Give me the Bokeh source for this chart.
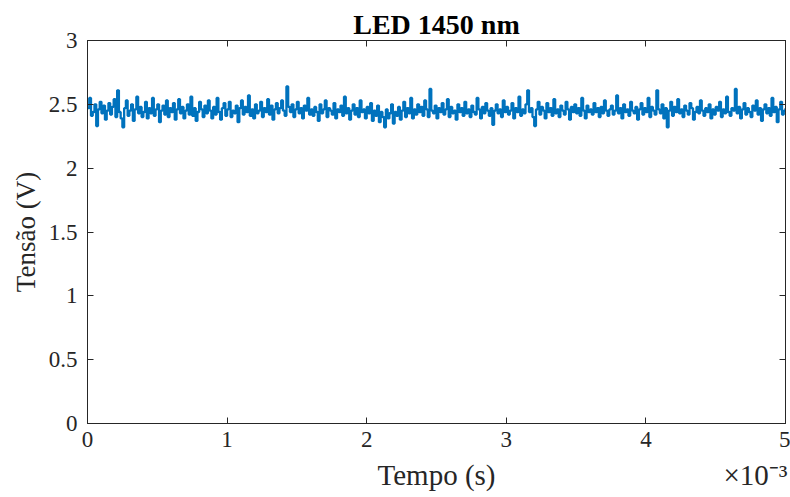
import numpy as np
from bokeh.plotting import figure
from bokeh.models import (Range1d, FixedTicker, LinearAxis,
                          CustomJSTickFormatter)
from bokeh.embed import file_html
from bokeh.resources import INLINE

# ---- data ----
title_text = "LED 1450 nm"
x_label = "Tempo (s)"
y_label = "Tensão (V)"
x_exponent = "×10⁻³"
x_ticks = [0, 0.001, 0.002, 0.003, 0.004, 0.005]
y_ticks = [0, 0.5, 1, 1.5, 2, 2.5, 3]
t_end = 0.005

volt = [
    2.47, 2.55, 2.41, 2.44, 2.50, 2.33, 2.46, 2.52, 2.43, 2.49,
    2.38, 2.45, 2.51, 2.42, 2.48, 2.54, 2.40, 2.61, 2.44, 2.39,
    2.32, 2.47, 2.53, 2.41, 2.45, 2.50, 2.37, 2.46, 2.56, 2.43,
    2.48, 2.40, 2.44, 2.52, 2.39, 2.47, 2.43, 2.55, 2.41, 2.46,
    2.50, 2.36, 2.45, 2.49, 2.42, 2.53, 2.40, 2.47, 2.44, 2.51,
    2.38, 2.46, 2.54, 2.43, 2.48, 2.39, 2.45, 2.50, 2.42, 2.56,
    2.41, 2.47, 2.37, 2.44, 2.52, 2.46, 2.40, 2.49, 2.43, 2.53,
    2.45, 2.39, 2.48, 2.42, 2.55, 2.44, 2.38, 2.47, 2.51, 2.41,
    2.46, 2.52, 2.40, 2.45, 2.43, 2.49, 2.36, 2.47, 2.53, 2.42,
    2.48, 2.44, 2.57, 2.41, 2.46, 2.39, 2.50, 2.43, 2.45, 2.52,
    2.40, 2.47, 2.44, 2.54, 2.42, 2.49, 2.38, 2.46, 2.51, 2.43,
    2.47, 2.53, 2.45, 2.41, 2.64, 2.48, 2.44, 2.50, 2.40, 2.46,
    2.52, 2.43, 2.47, 2.39, 2.49, 2.45, 2.55, 2.42, 2.46, 2.41,
    2.48, 2.44, 2.37, 2.50, 2.43, 2.46, 2.53, 2.40, 2.47, 2.45,
    2.42, 2.51, 2.39, 2.46, 2.44, 2.49, 2.41, 2.56, 2.43, 2.47,
    2.38, 2.45, 2.50, 2.42, 2.47, 2.40, 2.53, 2.44, 2.46, 2.39,
    2.48, 2.43, 2.51, 2.37, 2.45, 2.41, 2.49, 2.36, 2.44, 2.40,
    2.32, 2.46, 2.39, 2.43, 2.50, 2.35, 2.44, 2.41, 2.48, 2.38,
    2.45, 2.52, 2.40, 2.47, 2.43, 2.55, 2.39, 2.46, 2.42, 2.50,
    2.44, 2.48, 2.41, 2.53, 2.46, 2.40, 2.62, 2.45, 2.43, 2.49,
    2.39, 2.47, 2.44, 2.51, 2.42, 2.46, 2.54, 2.40, 2.48, 2.43,
    2.45, 2.38, 2.50, 2.44, 2.47, 2.41, 2.52, 2.43, 2.46, 2.40,
    2.49, 2.44, 2.42, 2.55, 2.46, 2.39, 2.48, 2.43, 2.51, 2.45,
    2.41, 2.47, 2.34, 2.45, 2.50, 2.43, 2.46, 2.40, 2.53, 2.44,
    2.48, 2.42, 2.45, 2.51, 2.39, 2.47, 2.44, 2.56, 2.41, 2.46,
    2.43, 2.50, 2.61, 2.44, 2.47, 2.40, 2.33, 2.46, 2.52, 2.42,
    2.48, 2.45, 2.39, 2.51, 2.44, 2.47, 2.41, 2.54, 2.43, 2.46,
    2.40, 2.49, 2.45, 2.42, 2.52, 2.46, 2.38, 2.48, 2.44, 2.50,
    2.43, 2.47, 2.41, 2.55, 2.45, 2.39, 2.49, 2.44, 2.46, 2.42,
    2.51, 2.44, 2.47, 2.40, 2.48, 2.43, 2.53, 2.45, 2.41, 2.46,
    2.49, 2.42, 2.45, 2.57, 2.43, 2.47, 2.39, 2.50, 2.44, 2.46,
    2.41, 2.52, 2.45, 2.43, 2.48, 2.38, 2.46, 2.51, 2.42, 2.47,
    2.44, 2.55, 2.40, 2.48, 2.45, 2.42, 2.61, 2.46, 2.43, 2.50,
    2.39, 2.47, 2.32, 2.45, 2.52, 2.41, 2.48, 2.44, 2.54, 2.43,
    2.46, 2.40, 2.49, 2.45, 2.42, 2.51, 2.47, 2.38, 2.44, 2.48,
    2.43, 2.53, 2.45, 2.41, 2.47, 2.44, 2.50, 2.39, 2.46, 2.42,
    2.48, 2.45, 2.52, 2.40, 2.46, 2.43, 2.56, 2.44, 2.41, 2.47,
    2.45, 2.62, 2.43, 2.48, 2.39, 2.46, 2.51, 2.42, 2.47, 2.44,
    2.40, 2.49, 2.45, 2.53, 2.42, 2.47, 2.37, 2.46, 2.50, 2.43,
    2.47, 2.41, 2.55, 2.44, 2.48, 2.36, 2.46, 2.52, 2.42, 2.45,
    2.47,
]
sample_period = t_end / (len(volt) - 1)
t = np.arange(len(volt)) * sample_period

# positions (in data units) of the two texts under the tick labels
label_row_x = [t_end / 2, t_end * 0.957]
label_row_text = [x_label, x_exponent]

# ---- style ----
FONT = "Liberation Serif"
AX = "#262626"
LINE = "#0072BD"

p = figure(width=790, height=497, output_backend="svg", toolbar_location=None,
           x_range=Range1d(0, t_end), y_range=Range1d(0, 3),
           min_border_left=87, min_border_right=5, min_border_top=40,
           min_border_bottom=74)
p.grid.visible = False
p.outline_line_color = AX
p.outline_line_width = 1
p.background_fill_color = "white"
p.border_fill_color = "white"

p.step(t, volt, mode="after", line_color=LINE, line_width=2.3)

xfmt = CustomJSTickFormatter(code="return (tick*1000).toFixed(0);")
yfmt = CustomJSTickFormatter(code="return tick.toString();")

def style_axis(ax, show_labels=True):
    ax.axis_line_color = AX
    ax.axis_line_width = 1
    ax.major_tick_line_color = AX
    ax.major_tick_in = 6
    ax.major_tick_out = 0
    ax.minor_tick_line_color = None
    ax.major_label_text_font = FONT
    ax.major_label_text_color = AX
    if not show_labels:
        ax.major_label_text_font_size = "0px"
        ax.major_label_standoff = 0

xa = p.xaxis[0]
xa.ticker = FixedTicker(ticks=x_ticks)
xa.formatter = xfmt
style_axis(xa)
xa.major_label_text_font_size = "23px"
xa.major_label_standoff = 8

# second row under the x axis: "Tempo (s)" centred and the ×10⁻³ factor at right
xb = LinearAxis(ticker=FixedTicker(ticks=label_row_x),
                formatter=CustomJSTickFormatter(
                    args=dict(xs=label_row_x, txt=label_row_text),
                    code="""
                    let best = 0, d = 1e9;
                    for (let i = 0; i < xs.length; i++) {
                        const e = Math.abs(xs[i] - tick);
                        if (e < d) { d = e; best = i; }
                    }
                    return txt[best];"""))
xb.axis_line_color = None
xb.major_tick_line_color = None
xb.minor_tick_line_color = None
xb.major_label_text_font = FONT
xb.major_label_text_color = AX
xb.major_label_text_font_size = "29px"
xb.major_label_standoff = 3
p.add_layout(xb, "below")

ya = p.yaxis[0]
ya.ticker = FixedTicker(ticks=y_ticks)
ya.formatter = yfmt
style_axis(ya)
ya.major_label_text_font_size = "23px"
ya.major_label_standoff = 10
ya.axis_label = y_label
ya.axis_label_text_font = FONT
ya.axis_label_text_font_style = "normal"
ya.axis_label_text_font_size = "27px"
ya.axis_label_text_color = AX
ya.axis_label_standoff = 5

top = LinearAxis(ticker=FixedTicker(ticks=x_ticks), formatter=xfmt)
style_axis(top, False)
p.add_layout(top, "above")
right = LinearAxis(ticker=FixedTicker(ticks=y_ticks), formatter=yfmt)
style_axis(right, False)
p.add_layout(right, "right")

p.title.text = title_text
p.title.align = "center"
p.title.text_font = FONT
p.title.text_font_style = "bold"
p.title.text_font_size = "28px"
p.title.text_color = "black"
p.title.standoff = 2

open("out.html", "w").write(file_html(p, INLINE))
